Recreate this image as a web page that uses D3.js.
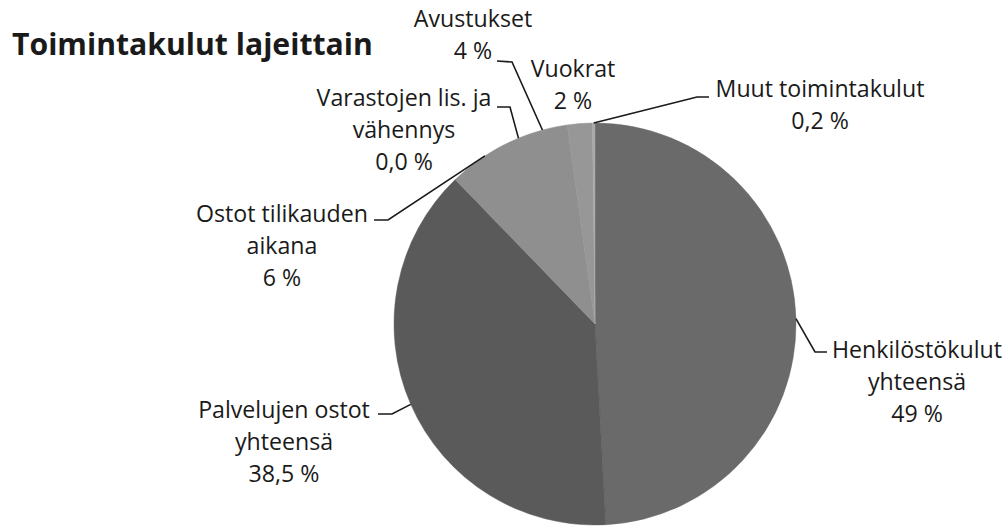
<!DOCTYPE html>
<html><head><meta charset="utf-8">
<script src="https://cdn.jsdelivr.net/npm/d3@7"></script>
<style>body{margin:0;background:#fff}svg{display:block}text{font-family:"Open Sans",Lato,sans-serif;fill:#1a1a1a}</style>
</head><body>
<svg id="c" width="1006" height="529"></svg>
<script>
const categories = ["Henkilöstökulut yhteensä","Palvelujen ostot yhteensä","Ostot tilikauden aikana","Varastojen lis. ja vähennys","Avustukset","Vuokrat","Muut toimintakulut"];
const values = [49, 38.5, 6, 0.0, 4, 2, 0.2];
const valueLabels = ["49 %","38,5 %","6 %","0,0 %","4 %","2 %","0,2 %"];
const labelLines = [["Henkilöstökulut","yhteensä"],["Palvelujen ostot","yhteensä"],["Ostot tilikauden","aikana"],["Varastojen lis. ja","vähennys"],["Avustukset"],["Vuokrat"],["Muut toimintakulut"]];
const colors = ["#6a6a6a","#5a5a5a","#8f8f8f","#8f8f8f","#8f8f8f","#979797","#aaaaaa"];

const svg = d3.select("#c");
const cx = 595, cy = 324, r = 201;

function fitSize(str, target, weight) {
  const t = svg.append("text").attr("font-size",100).attr("font-weight",weight).text(str);
  const w = t.node().getComputedTextLength();
  t.remove();
  return 100 * target / w;
}
const fs = fitSize("Henkilöstökulut", 170, "normal");
const tfs = fitSize("Toimintakulut lajeittain", 361, "bold");

const pie = d3.pie().sort(null).value(d => d)(values);
const arc = d3.arc().innerRadius(0).outerRadius(r);
const g = svg.append("g").attr("transform", `translate(${cx},${cy})`);
g.selectAll("path").data(pie).join("path").attr("d", arc).attr("fill", (d,i) => colors[i])
  .attr("stroke", (d,i) => colors[i]).attr("stroke-width", 0.5);

const layout = [
  {x:917, y:358, pts:[[815,352],[827,352]]},
  {x:284, y:418, pts:[[392,414],[378,414]]},
  {x:282, y:222, pts:[[388,220],[374,220]]},
  {x:404, y:106, pts:[[510,107],[497,107]]},
  {x:473, y:27,  pts:[[512,62],[497,61]]},
  {x:573, y:77,  pts:null},
  {x:820, y:97,  pts:[[697,97],[709,97]]}
];
const lh = 32;
pie.forEach((d,i) => {
  const L = layout[i];
  const lines = labelLines[i].concat([valueLabels[i]]);
  const t = svg.append("text").attr("text-anchor","middle").attr("font-size",fs);
  lines.forEach((s,k) => t.append("tspan").attr("x",L.x).attr("y",L.y + k*lh).text(s));
  if (L.pts) {
    const a = (d.startAngle + d.endAngle)/2;
    const s = [cx + r*Math.sin(a), cy - r*Math.cos(a)];
    svg.append("path").attr("d", d3.line()([s].concat(L.pts)))
      .attr("fill","none").attr("stroke","#1a1a1a").attr("stroke-width",1.6);
  }
});

svg.append("text").attr("x",12).attr("y",55).attr("font-size",tfs).attr("font-weight","bold").text("Toimintakulut lajeittain");
</script>
</body></html>
